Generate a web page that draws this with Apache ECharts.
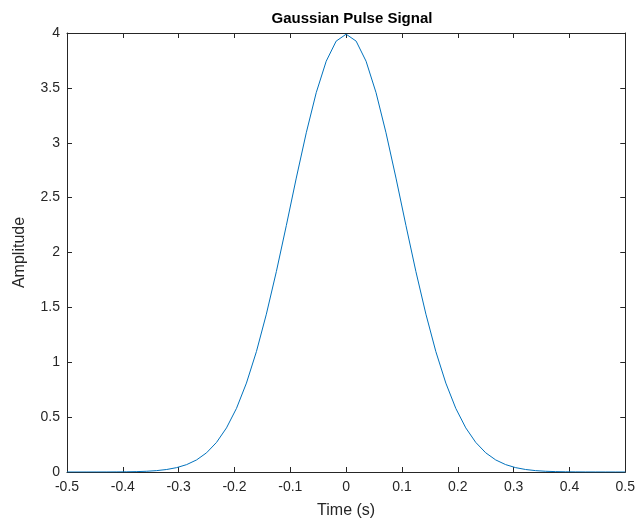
<!DOCTYPE html>
<html>
<head>
<meta charset="utf-8">
<script src="https://cdn.jsdelivr.net/npm/echarts@6/dist/echarts.min.js"></script>
<style>
  html, body { margin: 0; padding: 0; background: #fff; }
  #chart { width: 638px; height: 526px; }
</style>
</head>
<body>
<div id="chart"></div>
<script>
// 采样时间 (57 点, -0.5 .. 0.5)
var timeValues = [
  -0.5, -0.4821, -0.4643, -0.4464, -0.4286, -0.4107, -0.3929, -0.375, -0.3571, -0.3393,
  -0.3214, -0.3036, -0.2857, -0.2679, -0.25, -0.2321, -0.2143, -0.1964, -0.1786, -0.1607,
  -0.1429, -0.125, -0.1071, -0.0893, -0.0714, -0.0536, -0.0357, -0.0179, 0,
  0.0179, 0.0357, 0.0536, 0.0714, 0.0893, 0.1071, 0.125, 0.1429, 0.1607, 0.1786,
  0.1964, 0.2143, 0.2321, 0.25, 0.2679, 0.2857, 0.3036, 0.3214, 0.3393, 0.3571,
  0.375, 0.3929, 0.4107, 0.4286, 0.4464, 0.4643, 0.4821, 0.5
];
// 幅值
var amplitudeValues = [
  0, 0, 0.0001, 0.0002, 0.0004, 0.0009, 0.0018, 0.0035, 0.0068, 0.0126,
  0.0228, 0.0398, 0.0673, 0.110, 0.175, 0.270, 0.402, 0.580, 0.810, 1.097,
  1.438, 1.826, 2.247, 2.678, 3.091, 3.456, 3.743, 3.926, 3.989,
  3.926, 3.743, 3.456, 3.091, 2.678, 2.247, 1.826, 1.438, 1.097, 0.810,
  0.580, 0.402, 0.270, 0.175, 0.110, 0.0673, 0.0398, 0.0228, 0.0126, 0.0068,
  0.0035, 0.0018, 0.0009, 0.0004, 0.0002, 0.0001, 0, 0
];
var xTicks = [-0.5, -0.4, -0.3, -0.2, -0.1, 0, 0.1, 0.2, 0.3, 0.4, 0.5];
var yTicks = [0, 0.5, 1, 1.5, 2, 2.5, 3, 3.5, 4];

var points = [];
for (let i = 0; i < timeValues.length; i++) {
  points.push([timeValues[i], amplitudeValues[i]]);
}

var axisColor = '#262626';
var font = 'Arial, "Liberation Sans", Helvetica, sans-serif';

function xLabel(v) {
  if (v === 0) return '0';
  return (Math.round(v * 10) / 10).toString();
}

var chart = echarts.init(document.getElementById('chart'));
var option = {
  animation: false,
  backgroundColor: '#fff',
  title: {
    text: 'Gaussian Pulse Signal',
    left: 347, top: 6,
    textAlign: 'center',
    textStyle: { fontFamily: font, fontSize: 15, fontWeight: 'bold', color: '#000' }
  },
  grid: { left: 67, right: 12, top: 33, bottom: 54 },
  xAxis: [
    {
      type: 'value', min: -0.5, max: 0.5, interval: 0.1, position: 'bottom',
      name: 'Time (s)', nameLocation: 'middle', nameGap: 31,
      nameTextStyle: { fontFamily: font, fontSize: 16, color: '#262626' },
      axisLine: { show: true, onZero: false, lineStyle: { color: axisColor, width: 1 } },
      axisTick: { show: true, inside: true, length: 5, lineStyle: { color: axisColor } },
      axisLabel: { fontFamily: font, fontSize: 14, color: '#262626', margin: 8, formatter: xLabel },
      splitLine: { show: false }
    },
    {
      type: 'value', min: -0.5, max: 0.5, interval: 0.1, position: 'top',
      axisLine: { show: true, onZero: false, lineStyle: { color: axisColor, width: 1 } },
      axisTick: { show: true, inside: true, length: 5, lineStyle: { color: axisColor } },
      axisLabel: { show: false },
      splitLine: { show: false }
    }
  ],
  yAxis: [
    {
      type: 'value', min: 0, max: 4, interval: 0.5, position: 'left',
      name: 'Amplitude', nameLocation: 'middle', nameGap: 39, nameRotate: 90,
      nameTextStyle: { fontFamily: font, fontSize: 16, color: '#262626' },
      axisLine: { show: true, onZero: false, lineStyle: { color: axisColor, width: 1 } },
      axisTick: { show: true, inside: true, length: 5, lineStyle: { color: axisColor } },
      axisLabel: { fontFamily: font, fontSize: 14, color: '#262626', margin: 7 },
      splitLine: { show: false }
    },
    {
      type: 'value', min: 0, max: 4, interval: 0.5, position: 'right',
      axisLine: { show: true, onZero: false, lineStyle: { color: axisColor, width: 1 } },
      axisTick: { show: true, inside: true, length: 5, lineStyle: { color: axisColor } },
      axisLabel: { show: false },
      splitLine: { show: false }
    }
  ],
  series: [
    {
      type: 'line',
      data: points,
      xAxisIndex: 0, yAxisIndex: 0,
      showSymbol: false,
      symbol: 'none',
      lineStyle: { color: '#0072BD', width: 1 },
      itemStyle: { color: '#0072BD' }
    }
  ]
};
chart.setOption(option);
</script>
</body>
</html>
